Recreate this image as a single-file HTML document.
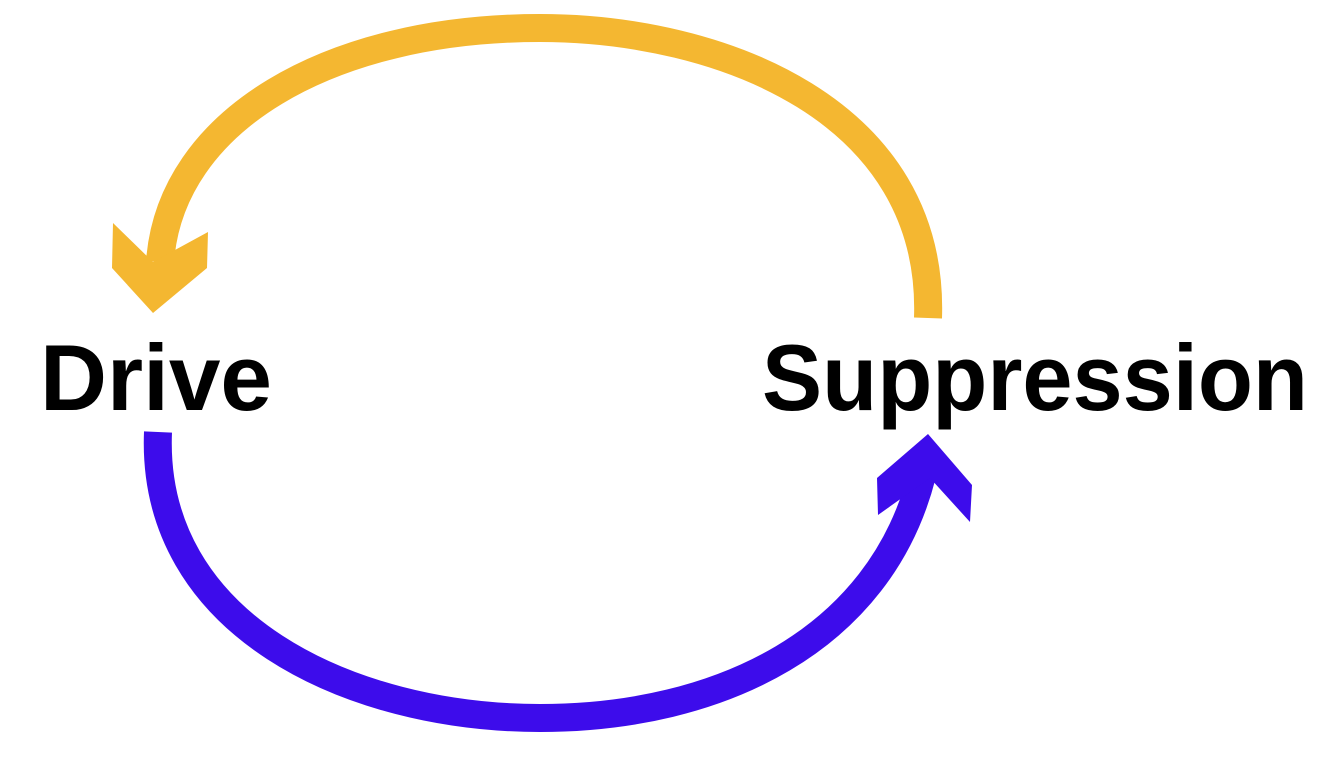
<!DOCTYPE html>
<html><head><meta charset="utf-8"><style>
html,body{margin:0;padding:0;background:#fff;width:1342px;height:780px;overflow:hidden}
</style></head><body>
<svg width="1342" height="780" viewBox="0 0 1342 780">
  <path d="M928,318 C935,110 720,28 540,28 C330,28 170,120 160,262" fill="none" stroke="#F4B731" stroke-width="28"/>
  <polygon points="113,223 153,262 208,232 207,268 153,313 112,268" fill="#F4B731"/>
  <path d="M158,432 C150,625 350,718 540,718 C720,718 880,640 922,475" fill="none" stroke="#3D0CEB" stroke-width="28"/>
  <polygon points="928,434 972,485 970,522 930,478 878,515 877,478" fill="#3D0CEB"/>
  <text x="40" y="410" font-family="Liberation Sans, sans-serif" font-weight="bold" font-size="94" textLength="232" lengthAdjust="spacingAndGlyphs" fill="#000">Drive</text>
  <text x="762" y="410" font-family="Liberation Sans, sans-serif" font-weight="bold" font-size="94" textLength="546" lengthAdjust="spacingAndGlyphs" fill="#000">Suppression</text>
</svg>
</body></html>
